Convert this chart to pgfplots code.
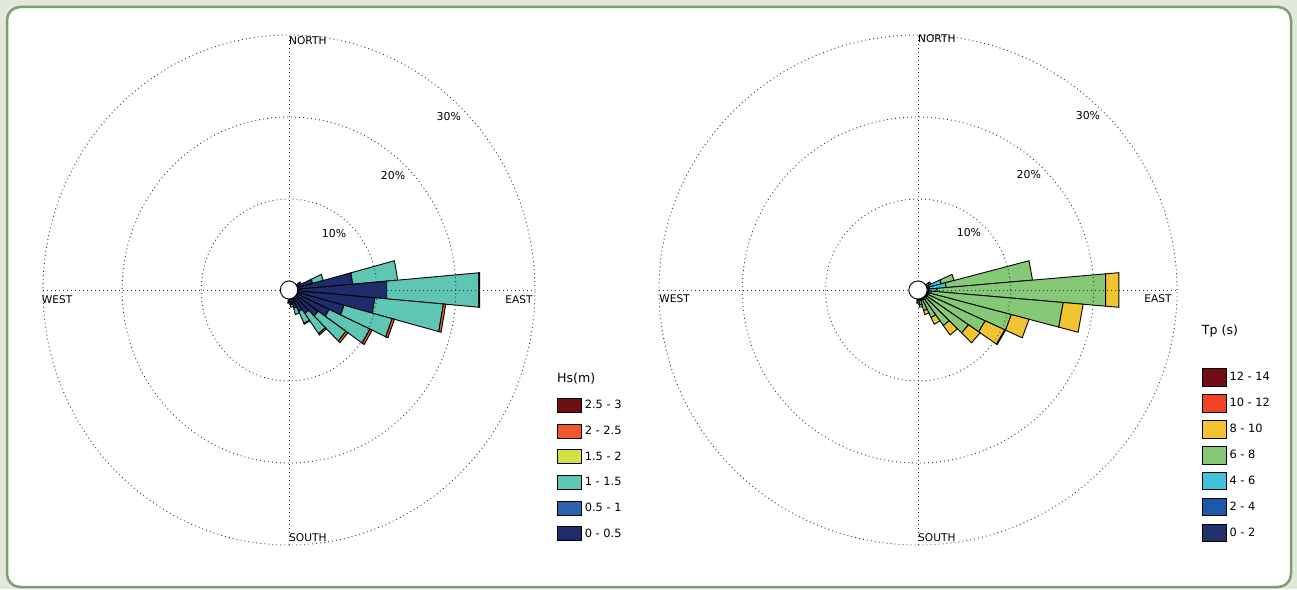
\documentclass[border=0pt]{standalone}
\usepackage{pgfplots}
\usepackage{pgfplotstable}
\pgfplotsset{compat=1.18}
\usepackage{fontspec}
\setmainfont{DejaVu Sans}

\definecolor{hs1}{HTML}{1F2C6C}
\definecolor{hs2}{HTML}{2A62B0}
\definecolor{hs3}{HTML}{5FC5B5}
\definecolor{hs4}{HTML}{D4DF44}
\definecolor{hs5}{HTML}{F0582A}
\definecolor{hs6}{HTML}{6E0F12}
\definecolor{tp1}{HTML}{23306E}
\definecolor{tp2}{HTML}{1E58A8}
\definecolor{tp3}{HTML}{3FC3DE}
\definecolor{tp4}{HTML}{85C876}
\definecolor{tp5}{HTML}{F2C431}
\definecolor{tp6}{HTML}{F0432A}
\definecolor{tp7}{HTML}{700E12}
\definecolor{bgcol}{HTML}{E3E8DD}
\definecolor{framecol}{HTML}{7D9E6D}

% Hs rose: percentage of occurrence per direction (deg, math angle) and Hs bin
\pgfplotstableread{
dir b1 b2 b3 b4 b5 b6
30 0.4 0 0.2 0 0 0
20 2.0 0 1.4 0 0 0
10 7.0 0 5.7 0 0 0
0 11.3 0 11.7 0 0.1 0
-10 9.8 0 8.7 0 0.3 0
-20 6.1 0 6.3 0 0.3 0
-30 4.5 0 5.7 0 0.3 0
-40 3.4 0 4.3 0 0.3 0
-50 2.4 0 3.0 0 0.2 0
-60 1.8 0 1.6 0 0.1 0
-70 1.2 0 0.8 0 0 0
-80 0.7 0 0.3 0 0 0
-90 0.4 0 0.1 0 0 0
}\hsdata

% Tp rose
\pgfplotstableread{
dir b1 b2 b3 b4 b5 b6 b7
30 0 0.1 0.3 0.2 0 0 0
20 0 0.3 1.5 1.6 0 0 0
10 0 0.3 2.0 10.4 0 0 0
0 0 0.2 1.0 20.3 1.6 0 0
-10 0 0.2 0.3 15.9 2.4 0 0
-20 0 0.1 0.2 10.2 2.2 0 0
-30 0 0.1 0.1 7.6 2.6 0.1 0
-40 0 0.1 0.1 6.1 1.7 0 0
-50 0 0.1 0.1 4.0 1.4 0 0
-60 0 0.1 0.1 2.4 0.9 0 0
-70 0 0.1 0.1 1.3 0.5 0 0
-80 0 0.1 0.1 0.5 0.3 0 0
-90 0 0.1 0.1 0.2 0.1 0 0
}\tpdata

\newcount\binc
\newcommand\drawrose[3]{%
  \pgfplotstablegetrowsof{#1}%
  \pgfmathtruncatemacro\lastrow{\pgfplotsretval-1}%
  \pgfplotsforeachungrouped \rowi in {0,...,\lastrow}{%
    \pgfplotstablegetelem{\rowi}{dir}\of{#1}%
    \pgfmathsetmacro\angL{\pgfplotsretval-5}%
    \pgfmathsetmacro\angR{\pgfplotsretval+5}%
    \def\rin{1.1}%
    \global\binc=1
    \loop
      \edef\tmpget{\noexpand\pgfplotstablegetelem{\rowi}{b\the\binc}\noexpand\of\noexpand#1}%
      \tmpget
      \let\myval\pgfplotsretval
      \pgfmathsetmacro\rout{\rin+\myval}%
      \ifdim\myval pt>0pt
        \edef\doplot{\noexpand\addplot[forget plot, draw=black, line width=0.9pt, line join=miter, fill=#3\the\binc, data cs=polar] coordinates {(\angL,\rin) (\angL,\rout) (\angR,\rout) (\angR,\rin)} -- cycle;}%
        \doplot
      \fi
      \let\rin\rout
      \global\advance\binc by 1
    \ifnum\binc<\numexpr#2+1\relax
    \repeat
  }%
}

\tikzset{
  gridsty/.style={draw=black!80, line width=0.9pt, dash pattern=on 0.9pt off 3.1pt},
  cmp/.style={inner sep=0pt, font=\fontsize{10.6}{12}\selectfont},
  pct/.style={inner sep=0pt, font=\fontsize{10.9}{12}\selectfont},
  ttl/.style={inner sep=0pt, font=\fontsize{12.6}{14}\selectfont},
}
\pgfplotsset{
  rose/.style={scale only axis, hide axis, clip=false,
    xmin=-32, xmax=32, ymin=-32, ymax=32, anchor=center,
    legend image code/.code={\draw[##1] (0pt,-#1) rectangle (24pt,#1);},
    legend cell align=left,
    legend style={draw=none, fill=none, inner sep=0pt, outer sep=0pt, anchor=north west,
      column sep=3pt, nodes={inner sep=0pt, font=\fontsize{11.4}{13}\selectfont}},
  },
}
\newcommand\rosegrid{%
  \draw[gridsty] (axis cs:-31.1,0) -- (axis cs:31.1,0);
  \draw[gridsty] (axis cs:0,-31.1) -- (axis cs:0,31.1);
  \draw[gridsty] (axis cs:0,0) circle[radius=11.1];
  \draw[gridsty] (axis cs:0,0) circle[radius=21.1];
  \draw[gridsty] (axis cs:0,0) circle[radius=31.1];
  \draw[fill=white, draw=black, line width=0.9pt] (axis cs:0,0) circle[radius=1.1];
}

\begin{document}
\begin{tikzpicture}
\path[use as bounding box] (0pt,0pt) rectangle (1297pt,589pt);
\fill[bgcol] (0pt,0pt) rectangle (1297pt,589pt);
\draw[framecol, line width=2.5pt, fill=white, rounded corners=13pt] (7pt,2pt) rectangle (1291pt,582pt);

% ---------- Hs rose ----------
\begin{axis}[rose={7pt}, at={(289pt,299pt)}, width=506.2pt, height=524.8pt,
  legend style={at={(axis cs:33.88,-13.17)}, row sep=10.9pt}]
\drawrose{\hsdata}{6}{hs}
\rosegrid
\node[cmp, anchor=north west] at (axis cs:0,30.98) {NORTH};
\node[cmp, anchor=south west] at (axis cs:0,-30.73) {SOUTH};
\node[cmp, anchor=north west] at (axis cs:-31.26,-0.61) {WEST};
\node[cmp, anchor=north east] at (axis cs:30.81,-0.61) {EAST};
\node[pct] at (axis cs:5.69,6.83) {10\%};
\node[pct] at (axis cs:13.15,14.02) {20\%};
\node[pct] at (axis cs:20.2,21.1) {30\%};
\node[ttl, anchor=north west] at (axis cs:33.88,-10.12) {Hs(m)};
\addlegendimage{fill=hs6, draw=black, line width=0.8pt}\addlegendentry{2.5 - 3}
\addlegendimage{fill=hs5, draw=black, line width=0.8pt}\addlegendentry{2 - 2.5}
\addlegendimage{fill=hs4, draw=black, line width=0.8pt}\addlegendentry{1.5 - 2}
\addlegendimage{fill=hs3, draw=black, line width=0.8pt}\addlegendentry{1 - 1.5}
\addlegendimage{fill=hs2, draw=black, line width=0.8pt}\addlegendentry{0.5 - 1}
\addlegendimage{fill=hs1, draw=black, line width=0.8pt}\addlegendentry{0 - 0.5}
\end{axis}

% ---------- Tp rose ----------
\begin{axis}[rose={8.75pt}, at={(918pt,299pt)}, width=533.1pt, height=524.8pt,
  legend style={at={(axis cs:34.06,-9.55)}, row sep=7.6pt}]
\drawrose{\tpdata}{7}{tp}
\rosegrid
\node[cmp, anchor=north west] at (axis cs:0,31.2) {NORTH};
\node[cmp, anchor=south west] at (axis cs:0,-30.73) {SOUTH};
\node[cmp, anchor=north west] at (axis cs:-31.06,-0.5) {WEST};
\node[cmp, anchor=north east] at (axis cs:30.46,-0.5) {EAST};
\node[pct] at (axis cs:6.12,6.95) {10\%};
\node[pct] at (axis cs:13.3,14.1) {20\%};
\node[pct] at (axis cs:20.4,21.3) {30\%};
\node[ttl, anchor=north west] at (axis cs:34.06,-4.27) {Tp (s)};
\addlegendimage{fill=tp7, draw=black, line width=0.8pt}\addlegendentry{12 - 14}
\addlegendimage{fill=tp6, draw=black, line width=0.8pt}\addlegendentry{10 - 12}
\addlegendimage{fill=tp5, draw=black, line width=0.8pt}\addlegendentry{8 - 10}
\addlegendimage{fill=tp4, draw=black, line width=0.8pt}\addlegendentry{6 - 8}
\addlegendimage{fill=tp3, draw=black, line width=0.8pt}\addlegendentry{4 - 6}
\addlegendimage{fill=tp2, draw=black, line width=0.8pt}\addlegendentry{2 - 4}
\addlegendimage{fill=tp1, draw=black, line width=0.8pt}\addlegendentry{0 - 2}
\end{axis}
\end{tikzpicture}
\end{document}
